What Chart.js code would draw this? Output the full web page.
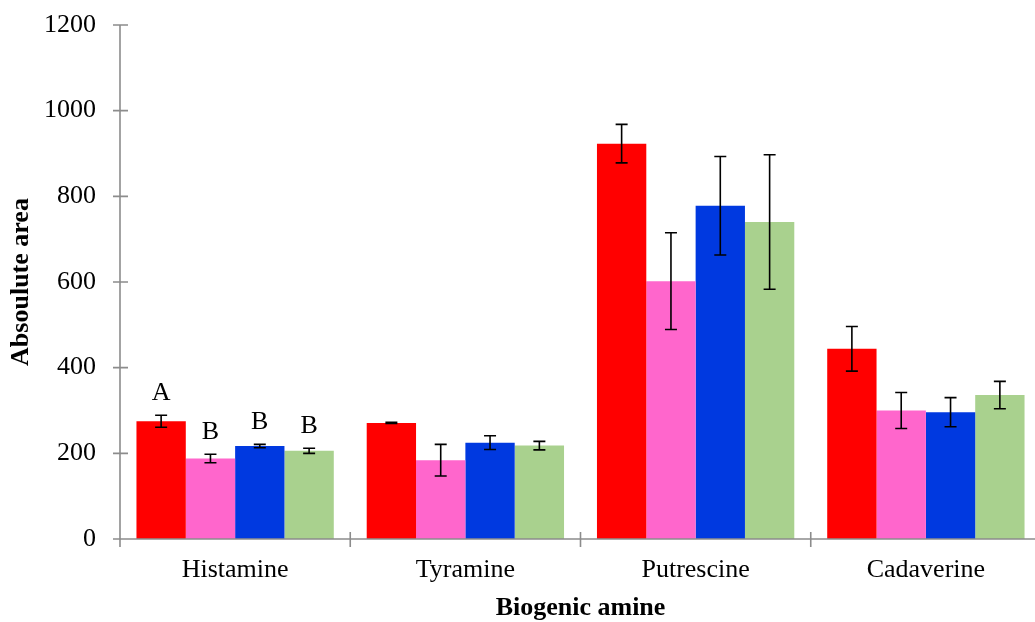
<!DOCTYPE html>
<html>
<head>
<meta charset="utf-8">
<script src="https://cdn.jsdelivr.net/npm/chart.js@4/dist/chart.umd.min.js"></script>
<style>
  html, body { margin: 0; padding: 0; background: #fff; overflow: hidden; }
  #wrap { width: 1045px; height: 622px; }
</style>
</head>
<body>
<div id="wrap"><canvas id="chart" width="1045" height="622"></canvas></div>
<script>
// values
var categories = ["Histamine", "Tyramine", "Putrescine", "Cadaverine"];
var yTicks = [0, 200, 400, 600, 800, 1000, 1200];

var red = [275, 271, 923, 444];
var redErr = [14, 1.5, 45, 52];
var pink = [188, 184, 602, 300];
var pinkErr = [10, 37, 113, 42];
var blue = [217, 225, 778, 296];
var blueErr = [4, 16, 115, 34];
var green = [206, 218, 740, 336];
var greenErr = [6, 10, 157, 32];

// significance letters, one per series, for the first category only
var letters = ["A", "B", "B", "B"];

var serif = "'Liberation Serif', 'Times New Roman', serif";
var axisColor = "#8c8c8c";

var errorBars = {
  id: "errorBars",
  afterDatasetsDraw: function(chart) {
    var ctx = chart.ctx;
    var y = chart.scales.y;
    ctx.save();
    ctx.strokeStyle = "#000";
    ctx.lineWidth = 1.6;
    chart.data.datasets.forEach(function(ds, di) {
      var meta = chart.getDatasetMeta(di);
      meta.data.forEach(function(bar, i) {
        var v = ds.data[i], e = ds.errors[i];
        var top = y.getPixelForValue(v + e);
        var bot = y.getPixelForValue(v - e);
        ctx.beginPath();
        ctx.moveTo(bar.x, top); ctx.lineTo(bar.x, bot);
        ctx.moveTo(bar.x - 6, top); ctx.lineTo(bar.x + 6, top);
        ctx.moveTo(bar.x - 6, bot); ctx.lineTo(bar.x + 6, bot);
        ctx.stroke();
        if (i === 0 && letters[di]) {
          ctx.fillStyle = "#000";
          ctx.font = "26px " + serif;
          ctx.textAlign = "center";
          ctx.textBaseline = "middle";
          ctx.fillText(letters[di], bar.x, top - 22);
        }
      });
    });
    ctx.restore();
  },
  afterDraw: function(chart) {
    // Excel-style tick marks crossing the axes
    var ctx = chart.ctx;
    var a = chart.chartArea;
    var x = chart.scales.x, y = chart.scales.y;
    ctx.save();
    ctx.strokeStyle = axisColor;
    ctx.lineWidth = 1.6;
    ctx.beginPath();
    ctx.moveTo(a.left, a.top); ctx.lineTo(a.left, a.bottom + 8);
    ctx.moveTo(a.left - 7, a.bottom); ctx.lineTo(a.right, a.bottom);
    yTicks.forEach(function(t) {
      var py = y.getPixelForValue(t);
      ctx.moveTo(a.left - 7, py); ctx.lineTo(a.left + 8, py);
    });
    var half = (x.getPixelForValue(1) - x.getPixelForValue(0)) / 2;
    for (var i = 1; i <= categories.length; i++) {
      var px = x.getPixelForValue(i) - half;
      ctx.moveTo(px, a.bottom - 7); ctx.lineTo(px, a.bottom + 8);
    }
    ctx.stroke();
    ctx.restore();
  }
};

new Chart(document.getElementById("chart"), {
  type: "bar",
  data: {
    labels: categories,
    datasets: [
      { label: "Group 1", data: red, errors: redErr, backgroundColor: "#ff0000" },
      { label: "Group 2", data: pink, errors: pinkErr, backgroundColor: "#ff66cc" },
      { label: "Group 3", data: blue, errors: blueErr, backgroundColor: "#0039e0" },
      { label: "Group 4", data: green, errors: greenErr, backgroundColor: "#a9d18e" }
    ]
  },
  options: {
    responsive: false,
    animation: false,
    layout: { padding: { top: 25, right: 4, bottom: 0, left: 0 } },
    datasets: { bar: { categoryPercentage: 0.857, barPercentage: 1.0, borderWidth: 0 } },
    plugins: { legend: { display: false }, tooltip: { enabled: false } },
    scales: {
      x: {
        grid: { display: false, drawTicks: false },
        border: { display: false },
        ticks: { color: "#000", padding: 16, font: { family: serif, size: 26 } },
        title: {
          display: true, text: "Biogenic amine", color: "#000",
          font: { family: serif, size: 26, weight: "bold", lineHeight: 1 },
          padding: { top: 0, bottom: 1 }
        },
        afterFit: function(s) { s.height = 83; }
      },
      y: {
        min: 0, max: 1200,
        afterBuildTicks: function(s) { s.ticks = yTicks.map(function(v) { return { value: v }; }); },
        grid: { display: false, drawTicks: true, tickLength: 24 },
        border: { display: false },
        ticks: {
          color: "#000", padding: 0, font: { family: serif, size: 26 },
          callback: function(v) { return String(v); }
        },
        title: {
          display: true, text: "Absoulute area", color: "#000",
          font: { family: serif, size: 26, weight: "bold", lineHeight: 1.2 },
          padding: { top: 6, bottom: 0 }
        },
        afterFit: function(s) { s.width = 120; }
      }
    }
  },
  plugins: [errorBars]
});
</script>
</body>
</html>
